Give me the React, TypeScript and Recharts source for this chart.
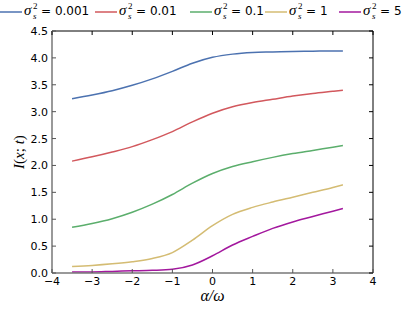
import { LineChart, Line, XAxis, YAxis, ReferenceLine } from "recharts";

// alpha / omega
const xValues = [-3.5, -3, -2.5, -2, -1.5, -1, -0.5, 0, 0.5, 1, 1.5, 2, 2.5, 3, 3.25];

// I(x; t) for each sigma_s^2
const s0001 = [3.24, 3.31, 3.39, 3.49, 3.61, 3.75, 3.9, 4.01, 4.07, 4.1, 4.11, 4.12, 4.125, 4.13, 4.13];
const s001 = [2.08, 2.16, 2.25, 2.35, 2.48, 2.63, 2.81, 2.97, 3.09, 3.17, 3.23, 3.29, 3.34, 3.38, 3.4];
const s01 = [0.85, 0.92, 1.01, 1.13, 1.28, 1.46, 1.67, 1.85, 1.98, 2.07, 2.15, 2.22, 2.28, 2.34, 2.37];
const s1 = [0.12, 0.14, 0.17, 0.21, 0.27, 0.38, 0.61, 0.88, 1.09, 1.22, 1.32, 1.41, 1.5, 1.59, 1.64];
const s5 = [0.02, 0.02, 0.03, 0.04, 0.05, 0.07, 0.15, 0.32, 0.52, 0.68, 0.83, 0.95, 1.05, 1.15, 1.2];

const xTicks = [-4, -3, -2, -1, 0, 1, 2, 3, 4];
const yTicks = [0, 0.5, 1, 1.5, 2, 2.5, 3, 3.5, 4, 4.5];

const seriesKeys = ["s0001", "s001", "s01", "s1", "s5"];
const seriesLabels = ["0.001", "0.01", "0.1", "1", "5"];
const seriesColors = ["#4C72B0", "#D2585D", "#5BAE6C", "#D4BC73", "#A3189E"];

const data = xValues.map((x, i) => ({
  x,
  s0001: s0001[i],
  s001: s001[i],
  s01: s01[i],
  s1: s1[i],
  s5: s5[i],
}));

// plot box in page pixels
const W = 415;
const H = 312;
const PLOT_LEFT = 52;
const PLOT_TOP = 31;
const PLOT_RIGHT = 373;
const PLOT_BOTTOM = 273;

const SANS = "'DejaVu Sans', sans-serif";
const SERIF = "'Liberation Serif', 'DejaVu Serif', serif";
const legendX = [0, 95, 190, 265, 339];

const fmtX = (v: number) => (v < 0 ? `\u2212${Math.abs(v)}` : `${v}`);

function XTick(props: any) {
  const { x, payload } = props;
  return (
    <g>
      <line x1={x} x2={x} y1={PLOT_BOTTOM} y2={PLOT_BOTTOM - 4} stroke="#555" />
      <line x1={x} x2={x} y1={PLOT_TOP} y2={PLOT_TOP + 4} stroke="#000" />
      <text x={x} y={PLOT_BOTTOM + 12} textAnchor="middle" fontSize={11} fontFamily={SANS} fill="#000">
        {fmtX(payload.value)}
      </text>
    </g>
  );
}

function YTick(props: any) {
  const { y, payload } = props;
  return (
    <g>
      <line x1={PLOT_LEFT} x2={PLOT_LEFT + 4} y1={y} y2={y} stroke="#555" />
      <line x1={PLOT_RIGHT} x2={PLOT_RIGHT - 4} y1={y} y2={y} stroke="#000" />
      <text x={PLOT_LEFT - 4} y={y + 4} textAnchor="end" fontSize={11} fontFamily={SANS} fill="#000">
        {Number(payload.value).toFixed(1)}
      </text>
    </g>
  );
}

function LegendRow() {
  return (
    <svg width={W} height={24} style={{ position: "absolute", left: 0, top: 0 }}>
      {seriesKeys.map((k, i) => {
        const x0 = legendX[i];
        return (
          <g key={k}>
            <line x1={x0} x2={x0 + 22} y1={12} y2={12} stroke={seriesColors[i]} strokeWidth={1.5} />
            <text x={x0 + 24} y={15} fontFamily={SERIF} fontStyle="italic" fontSize={15} fill="#000">
              σ
            </text>
            <text x={x0 + 33} y={9} fontFamily={SERIF} fontSize={9} fill="#000">
              2
            </text>
            <text x={x0 + 33} y={19} fontFamily={SERIF} fontStyle="italic" fontSize={9} fill="#000">
              s
            </text>
            <text x={x0 + 41} y={15} fontFamily={SANS} fontSize={12} fill="#000">
              = {seriesLabels[i]}
            </text>
          </g>
        );
      })}
    </svg>
  );
}

export default function App() {
  const cy = (PLOT_TOP + PLOT_BOTTOM) / 2;
  const cx = (PLOT_LEFT + PLOT_RIGHT) / 2;
  return (
    <div style={{ position: "absolute", left: 0, top: 0, width: W, height: H, background: "#fff" }}>
      <LineChart
        width={W}
        height={H}
        data={data}
        margin={{ top: PLOT_TOP, right: W - PLOT_RIGHT, bottom: 0, left: 0 }}
      >
        <XAxis
          dataKey="x"
          type="number"
          domain={[-4, 4]}
          ticks={xTicks}
          height={H - PLOT_BOTTOM}
          tickSize={0}
          tick={<XTick />}
          tickLine={false}
          axisLine={{ stroke: "#777", strokeWidth: 1.5 }}
          interval={0}
        />
        <YAxis
          type="number"
          domain={[0, 4.5]}
          ticks={yTicks}
          width={PLOT_LEFT}
          tickSize={0}
          tick={<YTick />}
          tickLine={false}
          axisLine={{ stroke: "#777", strokeWidth: 1.5 }}
          interval={0}
        />
        <ReferenceLine y={4.5} stroke="#000" strokeWidth={1} />
        <ReferenceLine x={4} stroke="#000" strokeWidth={1} />
        {seriesKeys.map((k, i) => (
          <Line
            key={k}
            type="monotone"
            dataKey={k}
            stroke={seriesColors[i]}
            strokeWidth={1.5}
            dot={false}
            isAnimationActive={false}
          />
        ))}
        <text
          transform={`translate(24, ${cy}) rotate(-90)`}
          textAnchor="middle"
          fontFamily={SERIF}
          fontSize={15}
          fill="#000"
        >
          <tspan fontStyle="italic">I</tspan>(<tspan fontStyle="italic">x</tspan>; <tspan fontStyle="italic">t</tspan>)
        </text>
        <text x={cx} y={301} textAnchor="middle" fontFamily={SERIF} fontStyle="italic" fontSize={16} fill="#000">
          α/ω
        </text>
      </LineChart>
      <LegendRow />
    </div>
  );
}
